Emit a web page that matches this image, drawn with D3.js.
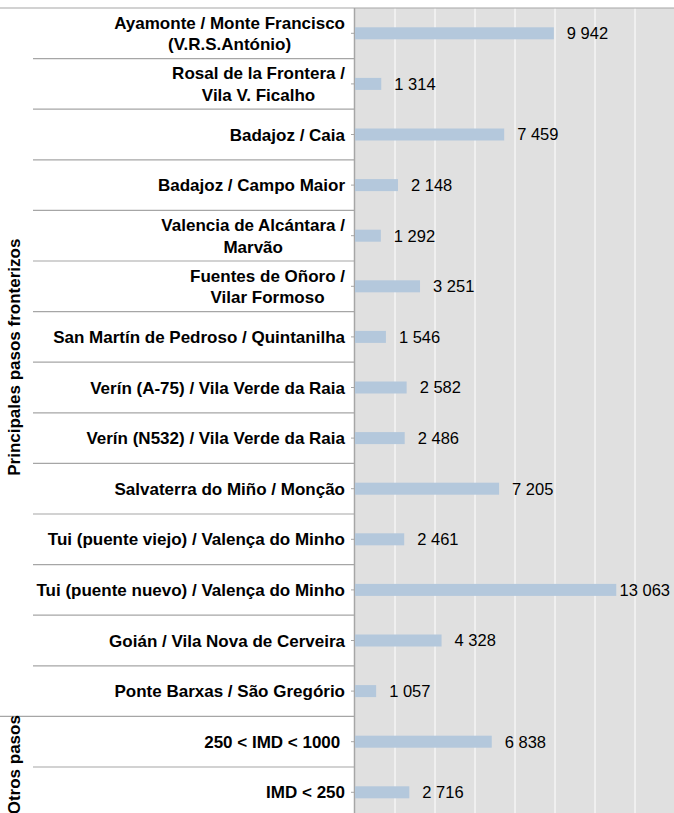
<!DOCTYPE html>
<html>
<head>
<meta charset="utf-8">
<script src="https://cdn.jsdelivr.net/npm/d3@7"></script>
<style>
  body { margin: 0; background: #fff; }
  svg text { font-family: "Liberation Sans", Arial, sans-serif; }
</style>
</head>
<body>
<div id="chart"></div>
<script>
// categories (each entry = lines of the label)
var categories = [
  ["Ayamonte / Monte Francisco", "(V.R.S.António)"],
  ["Rosal de la Frontera /", "Vila V. Ficalho"],
  ["Badajoz / Caia"],
  ["Badajoz / Campo Maior"],
  ["Valencia de Alcántara /", "Marvão"],
  ["Fuentes de Oñoro /", "Vilar Formoso"],
  ["San Martín de Pedroso / Quintanilha"],
  ["Verín (A-75) / Vila Verde da Raia"],
  ["Verín (N532) / Vila Verde da Raia"],
  ["Salvaterra do Miño / Monção"],
  ["Tui (puente viejo) / Valença do Minho"],
  ["Tui (puente nuevo) / Valença do Minho"],
  ["Goián / Vila Nova de Cerveira"],
  ["Ponte Barxas / São Gregório"],
  ["250 < IMD < 1000\u00a0"],
  ["IMD < 250"]
]
var values = [9942, 1314, 7459, 2148, 1292, 3251, 1546, 2582, 2486, 7205, 2461, 13063, 4328, 1057, 6838, 2716]
var groups = ["Principales pasos fronterizos", "Otros pasos"]
var groupSizes = [14, 2]
var xTicks = [0, 2000, 4000, 6000, 8000, 10000, 12000, 14000, 16000]

var width = 674, height = 813
var plotLeft = 355, plotRight = 675, plotTop = 8, rowH = 50.6

var svg = d3.select("#chart").append("svg")
  .attr("width", width)
  .attr("height", height)

var x = d3.scaleLinear().domain([0, 16000]).range([plotLeft, plotRight])
var y = d3.scaleBand()
  .domain(d3.range(categories.length))
  .range([plotTop, plotTop + rowH * categories.length])
  .padding(0)

var fmt = d3.formatLocale({decimal: ",", thousands: "\u00a0", grouping: [3], currency: ["", ""]}).format(",d")

// plot background
svg.append("rect")
  .attr("x", plotLeft).attr("y", plotTop)
  .attr("width", plotRight - plotLeft).attr("height", height - plotTop)
  .attr("fill", "#e0e0e0")

// vertical gridlines
svg.selectAll(".grid")
  .data(xTicks.slice(1))
  .enter().append("line")
  .attr("x1", function(d){ return x(d) }).attr("x2", function(d){ return x(d) })
  .attr("y1", plotTop).attr("y2", height)
  .attr("stroke", "#fff").attr("stroke-width", 1)

// top border
svg.append("line")
  .attr("x1", 0).attr("x2", width)
  .attr("y1", plotTop).attr("y2", plotTop)
  .attr("stroke", "#a6a6a6").attr("stroke-width", 1.2)

// separators between categories in label area
var groupEnds = [], acc = 0
groupSizes.forEach(function(n){ acc += n; groupEnds.push(acc) })
svg.selectAll(".sep")
  .data(d3.range(1, categories.length))
  .enter().append("line")
  .attr("x1", function(d){ return groupEnds.indexOf(d) >= 0 ? 0 : 33 })
  .attr("x2", plotLeft)
  .attr("y1", function(d){ return y(d) }).attr("y2", function(d){ return y(d) })
  .attr("stroke", "#a6a6a6").attr("stroke-width", 1.2)

// axis line with small ticks at category centers
svg.append("line")
  .attr("x1", plotLeft - 0.5).attr("x2", plotLeft - 0.5)
  .attr("y1", plotTop).attr("y2", height)
  .attr("stroke", "#a6a6a6").attr("stroke-width", 1.5)
svg.selectAll(".tick")
  .data(d3.range(categories.length))
  .enter().append("line")
  .attr("x1", plotLeft - 4).attr("x2", plotLeft)
  .attr("y1", function(d){ return y(d) + y.bandwidth() / 2 })
  .attr("y2", function(d){ return y(d) + y.bandwidth() / 2 })
  .attr("stroke", "#a6a6a6").attr("stroke-width", 1)

// bars
var barH = 12
svg.selectAll(".bar")
  .data(values)
  .enter().append("rect")
  .attr("x", x(0))
  .attr("y", function(d, i){ return y(i) + y.bandwidth() / 2 - barH / 2 })
  .attr("width", function(d){ return x(d) - x(0) })
  .attr("height", barH)
  .attr("fill", "#b4c8dc")

// value labels
svg.selectAll(".val")
  .data(values)
  .enter().append("text")
  .attr("y", function(d, i){ return y(i) + y.bandwidth() / 2 })
  .attr("dy", "0.36em")
  .attr("font-size", "16.5px")
  .attr("fill", "#000")
  .text(function(d){ return fmt(d) })
  .attr("x", function(d){
    var w = this.getComputedTextLength()
    return Math.min(x(d) + 13, 670 - w)
  })

// category labels (multi-line ones are centred within their block)
var lineH = 21.5
categories.forEach(function(lines, i){
  var g = svg.append("text")
    .attr("font-size", "17px")
    .attr("font-weight", "bold")
    .attr("fill", "#000")
    .style("white-space", "pre")
  var cy = y(i) + y.bandwidth() / 2
  var spans = lines.map(function(t, k){
    return g.append("tspan").text(t)
      .attr("y", cy + (k - (lines.length - 1) / 2) * lineH)
      .attr("dy", "0.36em")
  })
  var maxW = d3.max(spans, function(s){ return s.node().getComputedTextLength() })
  spans.forEach(function(s){
    s.attr("x", 345 - maxW / 2).attr("text-anchor", "middle")
  })
})

// group labels, rotated
var start = 0
var groupShift = [-5, 0]
groups.forEach(function(name, i){
  var y0 = y(start), y1 = plotTop + rowH * (start + groupSizes[i])
  var cy = (y0 + Math.min(y1, height)) / 2 + groupShift[i]
  svg.append("text")
    .attr("transform", "translate(19.5," + cy + ") rotate(-90)")
    .attr("text-anchor", "middle")
    .attr("font-size", "17px")
    .attr("font-weight", "bold")
    .attr("fill", "#000")
    .text(name)
  start += groupSizes[i]
})
</script>
</body>
</html>
